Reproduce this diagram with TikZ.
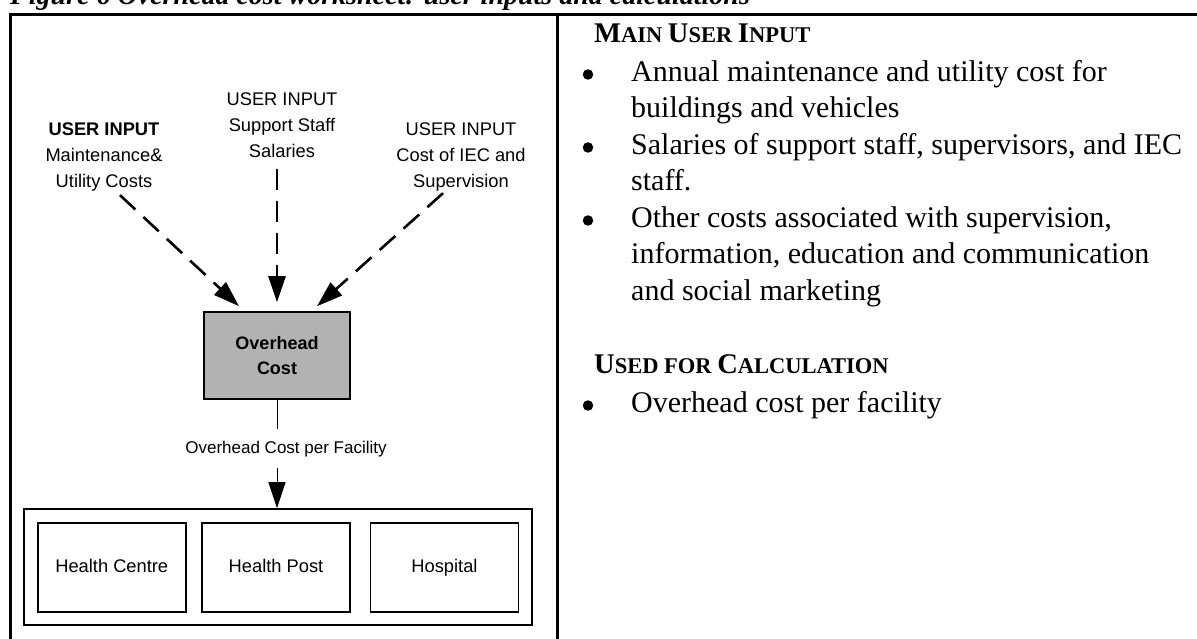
\documentclass[tikz,border=0pt]{standalone}
\usepackage{fontspec}
\setmainfont{Liberation Serif}
\setsansfont{Liberation Sans}
\usetikzlibrary{arrows.meta}
\definecolor{boxgray}{RGB}{178,178,178}
\newcommand{\smcap}[2]{{\fontsize{28.5}{29}\selectfont #1}#2}
\newcommand{\bitem}[4]{\node[bul] (#1b) at (588,#2-6.5) {}; \node[itm] (#1) at (631,#3) {\strut #4}}

\tikzset{
	frame/.style={line width=3pt},
	ttl/.style={font=\fontsize{28}{28}\selectfont\bfseries\itshape, anchor=base west, inner sep=0pt},
	lab/.style={font=\sffamily\fontsize{18.3}{26}\selectfont, align=center, inner sep=0pt, anchor=north},
	feed/.style={line width=2.6pt, dash pattern=on 21pt off 11pt, -{Triangle[length=26pt,width=17pt]}},
	ovhbox/.style={draw, fill=boxgray, line width=1.6pt, minimum width=146pt, minimum height=87pt,
		align=center, font=\sffamily\bfseries\fontsize{18}{25}\selectfont},
	flab/.style={font=\sffamily\fontsize{17}{20}\selectfont, anchor=base, inner xsep=0pt, inner ysep=11.5pt},
	down/.style={line width=1pt, -{Triangle[length=26pt,width=17pt]}},
	outer/.style={draw, line width=1.6pt, minimum width=508pt, minimum height=116pt},
	fac/.style={draw, line width=1.6pt, minimum width=148pt, minimum height=89pt, inner sep=0pt,
		text height=13.2pt, text depth=3.9pt, font=\sffamily\fontsize{18.3}{22}\selectfont},
	hd/.style={font=\bfseries\fontsize{22.5}{23}\selectfont, anchor=base west, inner sep=0pt},
	bul/.style={circle, fill, inner sep=0pt, minimum size=10.5pt},
	itm/.style={font=\fontsize{30}{36.5}\selectfont, align=left, anchor=north west, inner sep=0pt}
}

\begin{document}
\begin{tikzpicture}[x=1pt,y=-1pt]
	\useasboundingbox (0,0) rectangle (1197,639);
	\node[ttl] (title) at (10,5) {Figure 6 Overhead cost worksheet: user inputs and calculations};
	\draw[frame] (10.5,639) -- (10.5,15) -- (1197,15);
	\draw[frame] (557,15) -- (557,639);

	\node[lab] (in1) at (104,116.8) {\strut\textbf{USER INPUT}\\Maintenance\&\\Utility Costs};
	\node[lab] (in2) at (282,86.8) {\strut USER INPUT\\Support Staff\\Salaries};
	\node[lab] (in3) at (461,116.8) {\strut USER INPUT\\Cost of IEC and\\Supervision};
	\node[ovhbox] (ovh) at (277,355.5) {Overhead\\Cost};
	\draw[feed] ([xshift=16pt,yshift=-4pt]in1.south) -- ([xshift=-38pt,yshift=5pt]ovh.north);
	\draw[feed] ([xshift=-5pt,yshift=-11pt]in2.south) -- ([yshift=9pt]ovh.north);
	\draw[feed] ([xshift=-18pt,yshift=-2pt]in3.south) -- ([xshift=40pt,yshift=5pt]ovh.north);

	\node[flab] (perfac) at (286,453) {Overhead Cost per Facility};
	\node[outer] (facs) at (278,567) {};
	\node[fac] (hc) at (111.75,567.5) {Health Centre};
	\node[fac] (hp) at (276,567.5) {Health Post};
	\node[fac] (hosp) at (444.5,567.5) {Hospital};
	\draw[line width=1pt] (ovh.south) -- (ovh.south |- perfac.north);
	\draw[down] (perfac.south -| ovh.south) -- (facs.north -| ovh.south);

	\node[hd] (hd1) at (594,43) {\smcap{M}{AIN} \smcap{U}{SER} \smcap{I}{NPUT}};
	\bitem{it1}{81}{55.45}{Annual maintenance and utility cost for\\buildings and vehicles};
	\bitem{it2}{154}{128.45}{Salaries of support staff, supervisors, and IEC\\staff.};
	\bitem{it3}{227}{201.45}{Other costs associated with supervision,\\information, education and communication\\and social marketing};
	\node[hd] (hd2) at (594,373) {\smcap{U}{SED FOR} \smcap{C}{ALCULATION}};
	\bitem{it4}{412}{386.45}{Overhead cost per facility};
\end{tikzpicture}
\end{document}
